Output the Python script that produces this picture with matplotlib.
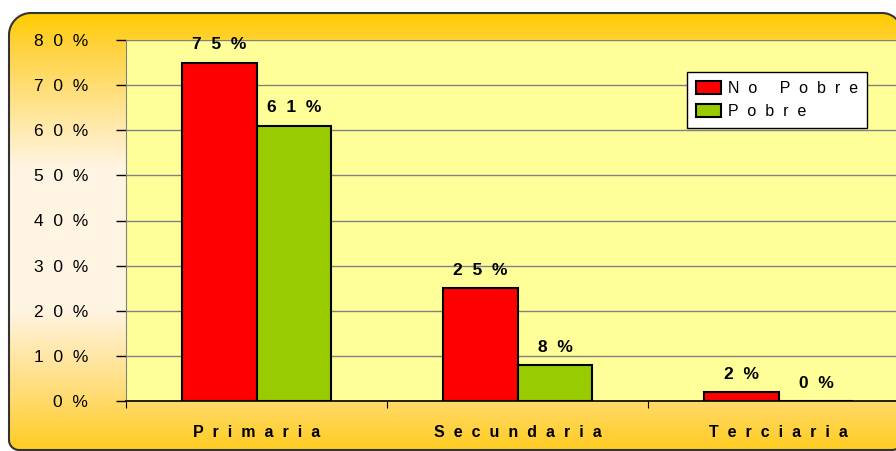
import matplotlib.pyplot as plt
import numpy as np
from matplotlib.patches import Polygon
from matplotlib.colors import LinearSegmentedColormap

categories = ["Primaria", "Secundaria", "Terciaria"]
no_pobre = [75, 25, 2]
pobre = [61, 8, 0]
series_names = ["No Pobre", "Pobre"]
yticks = [0, 10, 20, 30, 40, 50, 60, 70, 80]

plt.rcParams['font.family'] = ['Liberation Sans', 'DejaVu Sans']

def spaced(s):
    # the original chart draws its text letter-spaced
    return "  ".join(list(s))

def rounded_rect(x0, y0, x1, y1, r_tl, r_tr, r_br, r_bl):
    pts = []
    def arc(cx, cy, r, a0, a1):
        for a in np.linspace(a0, a1, 20):
            pts.append((cx + r * np.cos(a), cy + r * np.sin(a)))
    # y grows downward
    arc(x0 + r_tl, y0 + r_tl, r_tl, np.pi, 1.5 * np.pi)
    arc(x1 - r_tr, y0 + r_tr, r_tr, 1.5 * np.pi, 2 * np.pi)
    arc(x1 - r_br, y1 - r_br, r_br, 0, 0.5 * np.pi)
    arc(x0 + r_bl, y1 - r_bl, r_bl, 0.5 * np.pi, np.pi)
    return pts

W, H = 896, 451
fig = plt.figure(figsize=(W / 100, H / 100), dpi=100)
fig.patch.set_facecolor("white")

# background gradient inside a rounded frame
bg = fig.add_axes([0, 0, 1, 1])
bg.set_xlim(0, W)
bg.set_ylim(H, 0)
bg.axis("off")
cmap = LinearSegmentedColormap.from_list(
    "gold", [(0.0, "#ffcc00"), (0.07, "#ffd23a"), (0.35, "#fff4e2"),
             (0.68, "#fff4e2"), (0.88, "#ffdb70"), (1.0, "#ffcc22")])
grad = np.linspace(0, 1, 256).reshape(-1, 1)
img = bg.imshow(grad, cmap=cmap, aspect="auto", extent=[9, 902, 450, 13])
frame = Polygon(rounded_rect(9, 13, 902, 450, 22, 20, 10, 10), closed=True,
                facecolor="none", edgecolor="#333333", linewidth=1.5)
bg.add_patch(frame)
img.set_clip_path(frame)

# plot area
left, right, top, bottom = 126, 909, 40, 401
ax = fig.add_axes([left / W, 1 - bottom / H, (right - left) / W, (bottom - top) / H])
ax.set_facecolor("#ffff99")
ax.set_xlim(-0.5, 2.5)
ax.set_ylim(0, 80)

x = np.arange(len(categories))
w = 0.287
ax.bar(x - w / 2, no_pobre, w, color="#ff0000", edgecolor="black", linewidth=1.5,
       label=spaced(series_names[0]), zorder=3)
ax.bar(x + w / 2, pobre, w, color="#99cc00", edgecolor="black", linewidth=1.5,
       label=spaced(series_names[1]), zorder=3)

for xi, v in zip(x - w / 2, no_pobre):
    ax.text(xi, v + 2.3, spaced(f"{v}%"), ha="center", va="bottom", fontsize=12.5, fontweight="bold")
for xi, v in zip(x + w / 2, pobre):
    ax.text(xi, v + 2.3, spaced(f"{v}%"), ha="center", va="bottom", fontsize=12.5, fontweight="bold")

ax.set_yticks(yticks)
ax.set_yticklabels([spaced(f"{t}%") for t in yticks], fontsize=12.5)
ax.yaxis.grid(True, color="#808080", linewidth=1)
ax.set_axisbelow(True)
ax.tick_params(axis="y", length=7.2, width=1, color="black", pad=20)

ax.set_xticks([-0.5, 0.5, 1.5, 2.5])
ax.set_xticklabels([])
ax.set_xticks(x, minor=True)
ax.set_xticklabels([spaced(c) for c in categories], minor=True, fontsize=11.5, fontweight="bold")
ax.tick_params(axis="x", which="major", length=5, direction="out", color="black")
ax.tick_params(axis="x", which="minor", length=0, pad=17)

for s in ["top", "right"]:
    ax.spines[s].set_visible(False)
ax.spines["left"].set_color("#808080")
ax.spines["bottom"].set_color("black")
ax.spines["bottom"].set_linewidth(1.2)

leg = fig.legend(loc="upper left", bbox_to_anchor=(687 / W, 1 - 72 / H), fontsize=11.5,
                 frameon=True, fancybox=False, edgecolor="black", framealpha=1,
                 handlelength=1.6, handleheight=0.9, handletextpad=0.4,
                 borderpad=0.55, labelspacing=0.5, borderaxespad=0)
leg.get_frame().set_linewidth(1)

fig.savefig("out.png", dpi=100)
